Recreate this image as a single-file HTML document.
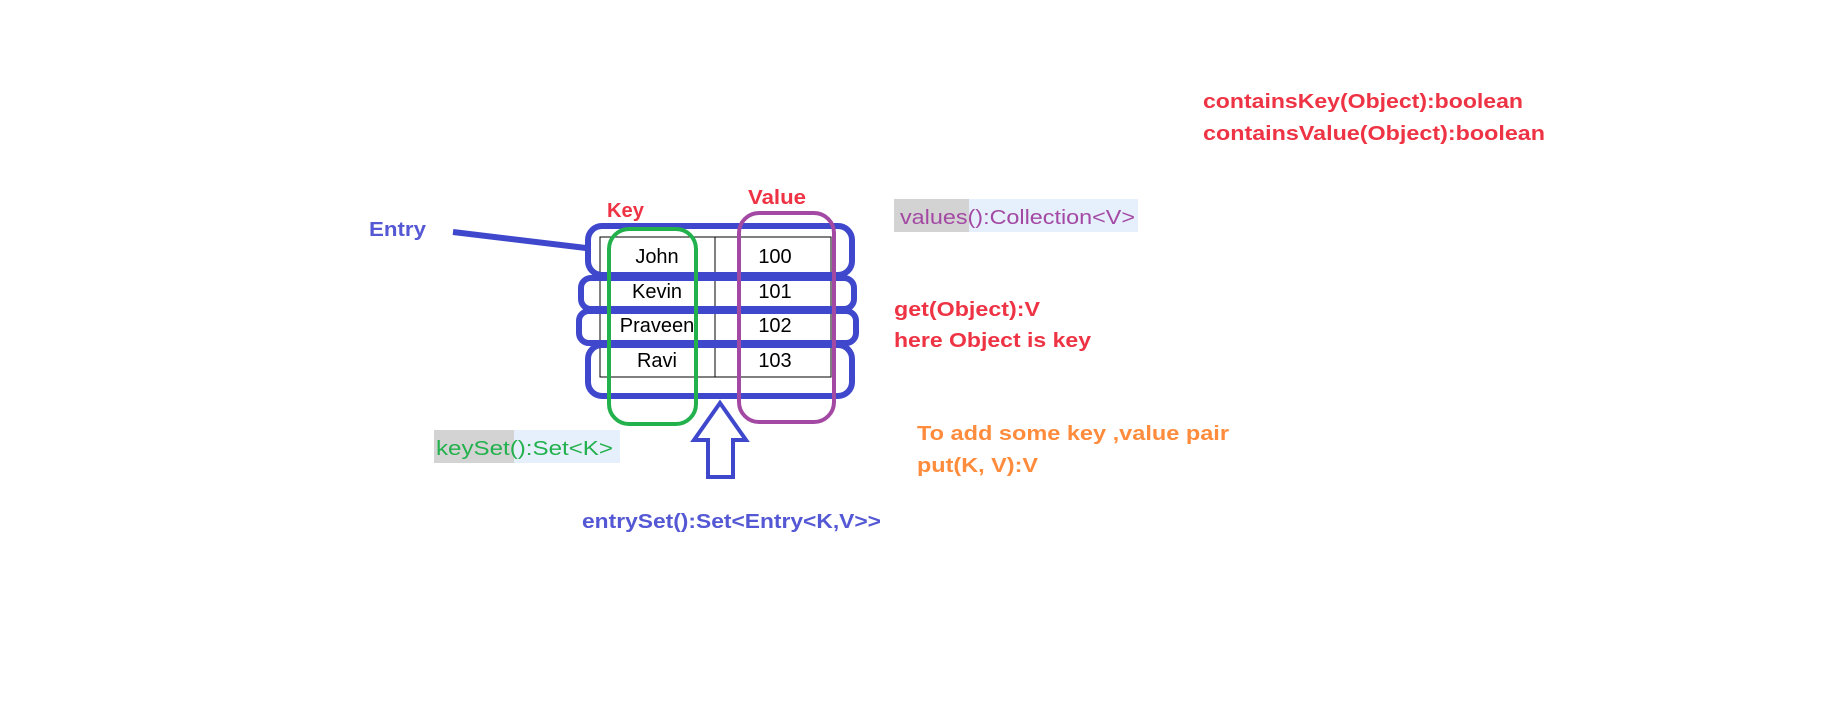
<!DOCTYPE html>
<html><head><meta charset="utf-8"><style>
html,body{margin:0;padding:0;background:#fff;}
svg{display:block;}
text{font-family:"Liberation Sans",sans-serif;}
</style></head><body>
<svg width="1842" height="726" viewBox="0 0 1842 726" xmlns="http://www.w3.org/2000/svg">
<rect width="1842" height="726" fill="#fff"/>
<!-- highlight boxes -->
<rect x="894" y="199" width="244" height="33" fill="#e6effc"/>
<rect x="894" y="199" width="75" height="33" fill="#d3d3d3"/>
<rect x="434" y="430" width="186" height="33" fill="#e6effc"/>
<rect x="434" y="430" width="80" height="33" fill="#d3d3d3"/>
<!-- table -->
<g stroke="#000" stroke-width="1" fill="none">
<rect x="600" y="237" width="231" height="140"/>
<line x1="600" y1="273" x2="831" y2="273"/>
<line x1="600" y1="307" x2="831" y2="307"/>
<line x1="600" y1="342" x2="831" y2="342"/>
<line x1="715" y1="237" x2="715" y2="377"/>
</g>
<g font-size="20" fill="#000" text-anchor="middle">
<text x="657" y="263">John</text><text x="775" y="263">100</text>
<text x="657" y="298">Kevin</text><text x="775" y="298">101</text>
<text x="657" y="332">Praveen</text><text x="775" y="332">102</text>
<text x="657" y="367">Ravi</text><text x="775" y="367">103</text>
</g>
<!-- blue entry loops -->
<g stroke="#3f48cc" stroke-width="6" fill="none">
<rect x="588" y="226" width="264" height="49" rx="14"/>
<rect x="581" y="278" width="273" height="31" rx="10"/>
<rect x="579" y="311" width="277" height="32" rx="10"/>
<rect x="588" y="345" width="264" height="51" rx="14"/>
<line x1="453" y1="232" x2="586" y2="248"/>
</g>
<!-- green & purple -->
<rect x="609" y="229" width="87" height="195" rx="20" stroke="#22b14c" stroke-width="4" fill="none"/>
<rect x="739" y="213" width="95" height="209" rx="20" stroke="#a349a4" stroke-width="4" fill="none"/>
<!-- arrow -->
<polygon points="720,403 746,440 733,440 733,477 708,477 708,440 694,440" stroke="#3f48cc" stroke-width="4" fill="#fff"/>
<!-- labels -->
<g font-weight="bold" font-size="20">
<text x="369" y="236" fill="#5558d4" textLength="57" lengthAdjust="spacingAndGlyphs">Entry</text>
<text x="607" y="217" fill="#ee3344" textLength="37" lengthAdjust="spacingAndGlyphs">Key</text>
<text x="748" y="204" fill="#ee3344" textLength="58" lengthAdjust="spacingAndGlyphs">Value</text>
<text x="1203" y="108" fill="#ee3344" textLength="320" lengthAdjust="spacingAndGlyphs">containsKey(Object):boolean</text>
<text x="1203" y="140" fill="#ee3344" textLength="342" lengthAdjust="spacingAndGlyphs">containsValue(Object):boolean</text>
<text x="894" y="316" fill="#ee3344" textLength="146" lengthAdjust="spacingAndGlyphs">get(Object):V</text>
<text x="894" y="347" fill="#ee3344" textLength="197" lengthAdjust="spacingAndGlyphs">here Object is key</text>
<text x="917" y="440" fill="#ff8c3c" textLength="312" lengthAdjust="spacingAndGlyphs">To add some key ,value pair</text>
<text x="917" y="472" fill="#ff8c3c" textLength="121" lengthAdjust="spacingAndGlyphs">put(K, V):V</text>
<text x="582" y="528" fill="#5558d4" textLength="299" lengthAdjust="spacingAndGlyphs">entrySet():Set&lt;Entry&lt;K,V&gt;&gt;</text>
</g>
<text x="900" y="224" font-size="20" fill="#a349a4" textLength="235" lengthAdjust="spacingAndGlyphs">values():Collection&lt;V&gt;</text>
<text x="436" y="455" font-size="20" fill="#22b14c" textLength="177" lengthAdjust="spacingAndGlyphs">keySet():Set&lt;K&gt;</text>
</svg>
</body></html>
